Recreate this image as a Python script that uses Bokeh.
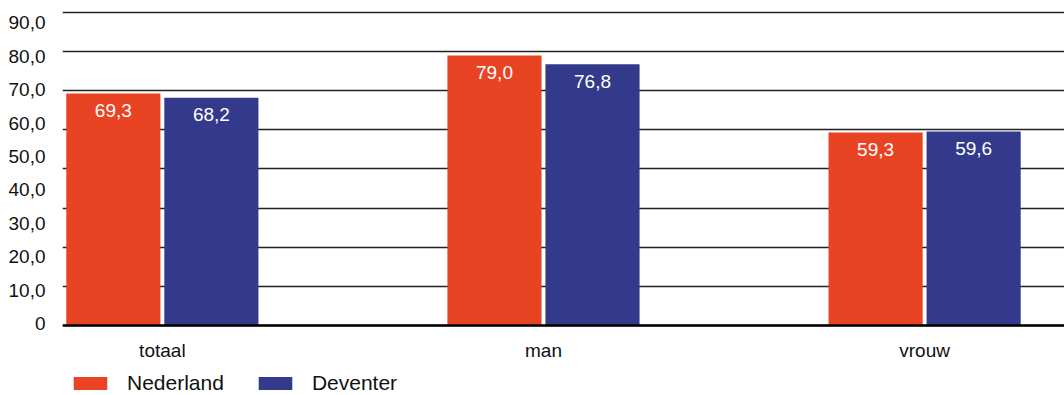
from bokeh.plotting import figure
from bokeh.models import (Range1d, LinearAxis, FixedTicker, Grid, Legend, LegendItem,
                          ColumnDataSource, Span)
from bokeh.transform import dodge
from bokeh.core.properties import value
from bokeh.embed import file_html
from bokeh.resources import INLINE

# ---- data ----
categories = ["totaal", "man", "vrouw"]
nederland = [69.3, 79.0, 59.3]
deventer = [68.2, 76.8, 59.6]
series_names = ["Nederland", "Deventer"]
y_tick_values = [0, 10, 20, 30, 40, 50, 60, 70, 80, 90]
y_tick_labels = ["0", "10,0", "20,0", "30,0", "40,0", "50,0", "60,0", "70,0", "80,0", "90,0"]
grid_values = [10, 20, 30, 40, 50, 60, 70, 80, 90]
baseline = 10  # value axis of the bars starts at 10 in the original

# ---- styles ----
ORANGE = "#E84424"
NAVY = "#333A8C"
FONT = "'Liberation Sans', Arial, sans-serif"

def fmt(v):
    return f"{v:.1f}".replace(".", ",")

xs = list(range(len(categories)))
src = ColumnDataSource(dict(
    x=xs,
    ned=nederland,
    dev=deventer,
    ned_lbl=[fmt(v) for v in nederland],
    dev_lbl=[fmt(v) for v in deventer],
    base=[baseline] * len(xs),
    cat=categories,
))

p = figure(width=1064, height=395, output_backend="svg", toolbar_location=None,
           x_range=Range1d(-0.262, 2.367), y_range=Range1d(-7.89, 91.02),
           x_axis_location=None, y_axis_location=None,
           min_border_left=62, min_border_right=0, min_border_top=8, min_border_bottom=0)
p.outline_line_color = None
for g in p.grid:
    g.visible = False

# grid lines (value scale)
grid = Grid(dimension=1, ticker=FixedTicker(ticks=grid_values),
            grid_line_color="#222222", grid_line_width=1.3)
p.add_layout(grid)

# tick labels axis (separate label scale as in the original)
p.extra_y_ranges = {"lbl": Range1d(-21.56, 94.34)}
yax = LinearAxis(y_range_name="lbl", ticker=FixedTicker(ticks=y_tick_values),
                 major_label_overrides={v: l for v, l in zip(y_tick_values, y_tick_labels)},
                 axis_line_color=None, major_tick_line_color=None, minor_tick_line_color=None,
                 major_label_standoff=11,
                 major_label_text_font=FONT, major_label_text_font_size="19px",
                 major_label_text_color="#111111")
p.add_layout(yax, "left")

off = 0.1286
w = 0.247
r1 = p.vbar(x=dodge("x", -off, range=p.x_range), top="ned", bottom=baseline, width=w,
            source=src, fill_color=ORANGE, line_color=None)
r2 = p.vbar(x=dodge("x", off, range=p.x_range), top="dev", bottom=baseline, width=w,
            source=src, fill_color=NAVY, line_color=None)

# baseline
p.add_layout(Span(location=baseline, dimension="width", line_color="black", line_width=2.6))

# value labels
for col, lbl, dx in (("ned", "ned_lbl", -off), ("dev", "dev_lbl", off)):
    p.text(x=dodge("x", dx, range=p.x_range), y=col, text=lbl, source=src,
           text_align="center", text_baseline="middle", y_offset=17,
           text_color="white", text_font=value(FONT), text_font_size="19px")

# category labels
p.text(x="x", y="base", text="cat", source=src, text_align="center",
       text_baseline="middle", y_offset=25, text_color="#111111",
       text_font=value(FONT), text_font_size="19px")

legend = Legend(items=[LegendItem(label=series_names[0], renderers=[r1]),
                       LegendItem(label=series_names[1], renderers=[r2])],
                orientation="horizontal", location=(7, 0),
                margin=0, padding=0, spacing=30,
                glyph_width=42, glyph_height=16, label_standoff=16,
                label_text_font=FONT, label_text_font_size="21px",
                label_text_color="#111111",
                border_line_color=None, background_fill_alpha=0)
p.add_layout(legend)

open("out.html", "w").write(file_html(p, INLINE))
